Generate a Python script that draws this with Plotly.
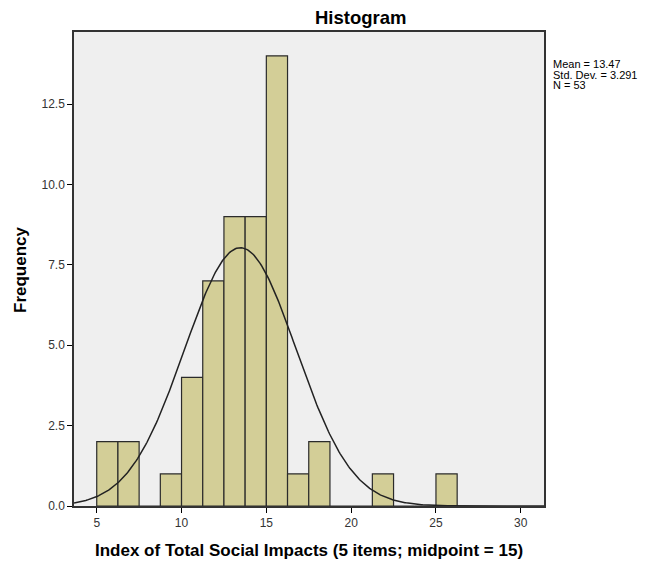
import numpy as np
import plotly.graph_objects as go

bin_start = 5.0
bin_width = 1.25
counts = [2, 2, 0, 1, 4, 7, 9, 9, 14, 1, 2, 0, 0, 1, 0, 0, 1]
mean = 13.47
std = 3.291
n = 53
x_ticks = [5, 10, 15, 20, 25, 30]
y_ticks = [0, 2.5, 5, 7.5, 10, 12.5]
y_tick_labels = ["0.0", "2.5", "5.0", "7.5", "10.0", "12.5"]
stats_lines = ["Mean = 13.47", "Std. Dev. = 3.291", "N = 53"]

centers = [bin_start + bin_width * (i + 0.5) for i in range(len(counts))]

x_range = [3.66, 31.37]
y_range = [0, 14.74]
xs = np.linspace(x_range[0], x_range[1], 400)
ys = n * bin_width * np.exp(-0.5 * ((xs - mean) / std) ** 2) / (std * np.sqrt(2 * np.pi))

W, H = 648, 562
L, R, T, B = 74, 104, 32, 56
PW, PH = W - L - R, H - T - B


def px(x):
    return (x - L) / PW


def py(y):
    return (H - B - y) / PH


fig = go.Figure()
fig.add_trace(go.Bar(x=centers, y=counts, width=bin_width,
                     marker=dict(color="#D3CE97", line=dict(color="#2b2b2b", width=1.2)),
                     hoverinfo="x+y"))
fig.add_trace(go.Scatter(x=xs, y=ys, mode="lines",
                         line=dict(color="#222222", width=1.5), hoverinfo="skip"))

font = "Liberation Sans, Arial, sans-serif"
annotations = [
    dict(text="<b>Histogram</b>", x=px(361), y=py(17),
         font=dict(size=18.5, color="black", family=font), xanchor="center", yanchor="middle"),
    dict(text="<b>Index of Total Social Impacts (5 items; midpoint = 15)</b>", x=px(309), y=py(550),
         font=dict(size=17, color="black", family=font), xanchor="center", yanchor="middle"),
    dict(text="<b>Frequency</b>", x=px(20), y=py(270), textangle=-90,
         font=dict(size=17, color="black", family=font), xanchor="center", yanchor="middle"),
]
for i, line in enumerate(stats_lines):
    annotations.append(dict(text=line, x=px(552), y=py(64 + 10.5 * i), xanchor="left", yanchor="middle",
                            height=9, valign="middle", borderpad=0,
                            font=dict(size=11, color="black", family=font)))
for a in annotations:
    a.update(xref="paper", yref="paper", showarrow=False)

fig.update_layout(
    width=W, height=H,
    margin=dict(l=L, r=R, t=T, b=B, autoexpand=False),
    paper_bgcolor="white", plot_bgcolor="#EFEFEF",
    showlegend=False,
    font=dict(family=font, size=12, color="#333333"),
    annotations=annotations,
)

fig.update_xaxes(range=x_range, tickvals=x_ticks, ticks="outside", ticklen=5,
                 tickcolor="black", showline=True, linecolor="#333333", linewidth=1.5,
                 mirror=True, showgrid=False, zeroline=False, automargin=False,
                 tickfont=dict(size=12, color="#333333"))
fig.update_yaxes(range=y_range, tickvals=y_ticks, ticktext=y_tick_labels,
                 ticks="outside", ticklen=5, tickcolor="black",
                 showline=True, linecolor="#333333", linewidth=1.5, mirror=True,
                 showgrid=False, zeroline=False, automargin=False,
                 tickfont=dict(size=12, color="#333333"))

fig.write_html("out.html", config={"displayModeBar": False},
               post_script="document.body.style.margin='0';document.body.style.overflow='hidden';")
